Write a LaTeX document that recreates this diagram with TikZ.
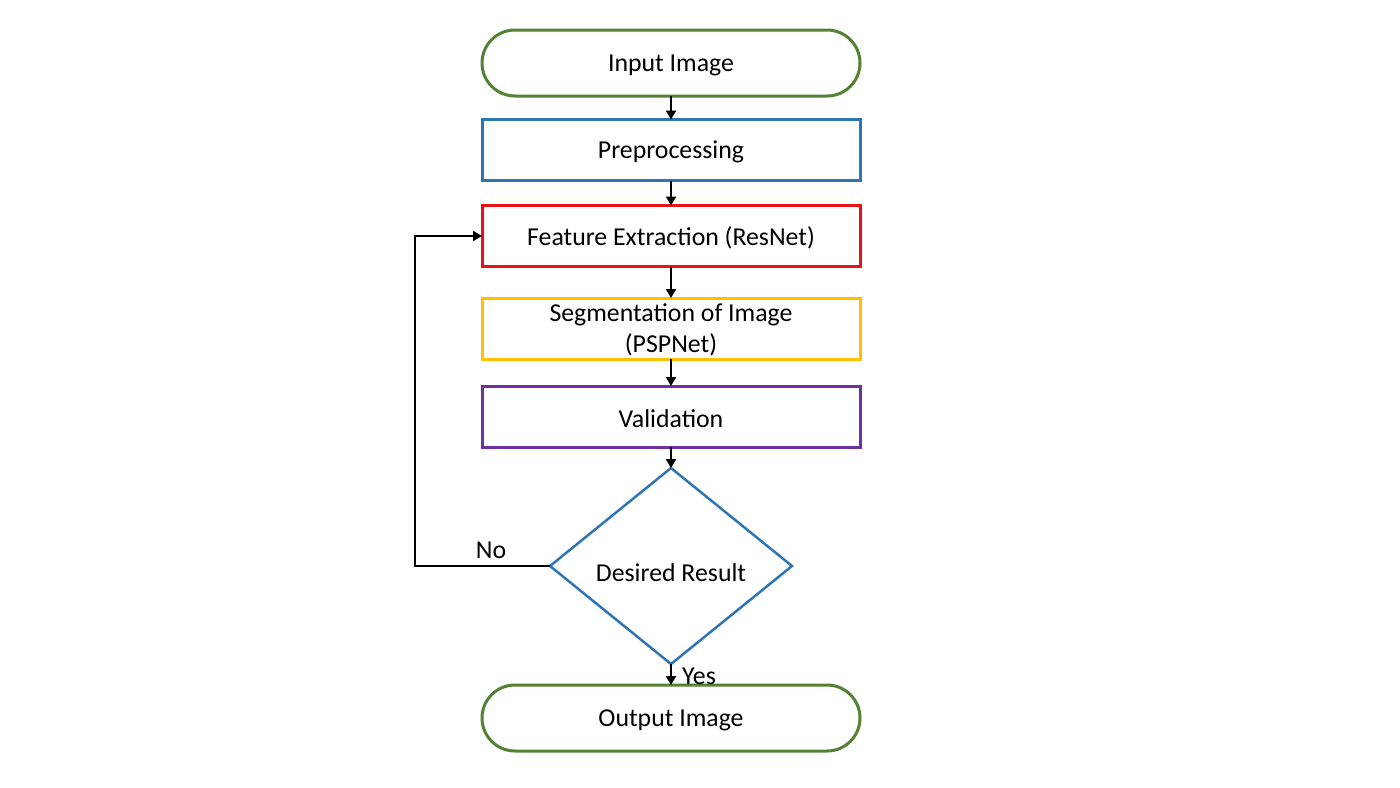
\documentclass[tikz,border=0pt]{standalone}
\usepackage{fontspec}
\setmainfont{Carlito}
\usetikzlibrary{shapes.geometric,arrows.meta}
\definecolor{cgreen}{RGB}{84,130,53}
\definecolor{cblue}{RGB}{46,117,182}
\definecolor{cred}{RGB}{230,20,20}
\definecolor{cyellow}{RGB}{255,192,0}
\definecolor{cpurple}{RGB}{112,48,160}
\tikzset{
  stadium/.style={draw=cgreen, line width=3pt, rounded corners=33pt, minimum width=378pt, minimum height=66pt, inner sep=0pt, outer sep=0pt, fill=white},
  procbox/.style={draw=#1, line width=3pt, minimum width=378pt, minimum height=61pt, inner sep=0pt, outer sep=0pt, align=center},
  decision/.style={draw=cblue, line width=2.5pt, diamond, minimum width=242pt, minimum height=196pt, inner sep=0pt, outer sep=0pt},
  conn/.style={line width=2.8pt, line join=miter, -{Triangle[length=9pt,width=10pt]}},
  lbl/.style={inner sep=0pt, align=center}
}
\begin{document}
\begin{tikzpicture}[x=1pt,y=-1pt,font=\fontsize{25.8pt}{31pt}\selectfont]
\useasboundingbox[fill=white] (0,0) rectangle (1400,787);
\node[stadium] (in) at (671,63) {};
\node[lbl] (int) at (671,65) {Input Image};
\node[procbox=cblue] (pre) at (671,150) {};
\node[lbl] (pret) at (671,152) {Preprocessing};
\node[procbox=cred] (fe) at (671,236) {};
\node[lbl] (fet) at (671,238) {Feature Extraction (ResNet)};
\node[procbox=cyellow] (seg) at (671,328.5) {};
\node[lbl] (segt) at (671,330) {Segmentation of Image\\[0pt](PSPNet)};
\node[procbox=cpurple] (val) at (671,416.5) {};
\node[lbl] (valt) at (671,419) {Validation};
\node[decision] (dec) at (671,566) {};
\node[lbl] (dect) at (671,573) {Desired Result};
\node[stadium] (out) at (671,718) {};
\node[lbl] (outt) at (671,720) {Output Image};
\coordinate (c1) at (415,566);
\draw[conn] (in.south) -- (pre.north);
\draw[conn] (pre.south) -- (fe.north);
\draw[conn] (fe.south) -- (seg.north);
\draw[conn] (seg.south) -- (val.north);
\draw[conn] (val.south) -- (dec.north);
\draw[conn] (dec.south) -- (out.north);
\draw[conn] (dec.west) -- (c1) |- (fe.west);
\node[lbl] (no) at (491,550) {No};
\node[lbl] (yes) at (699,676) {Yes};
\end{tikzpicture}
\end{document}
